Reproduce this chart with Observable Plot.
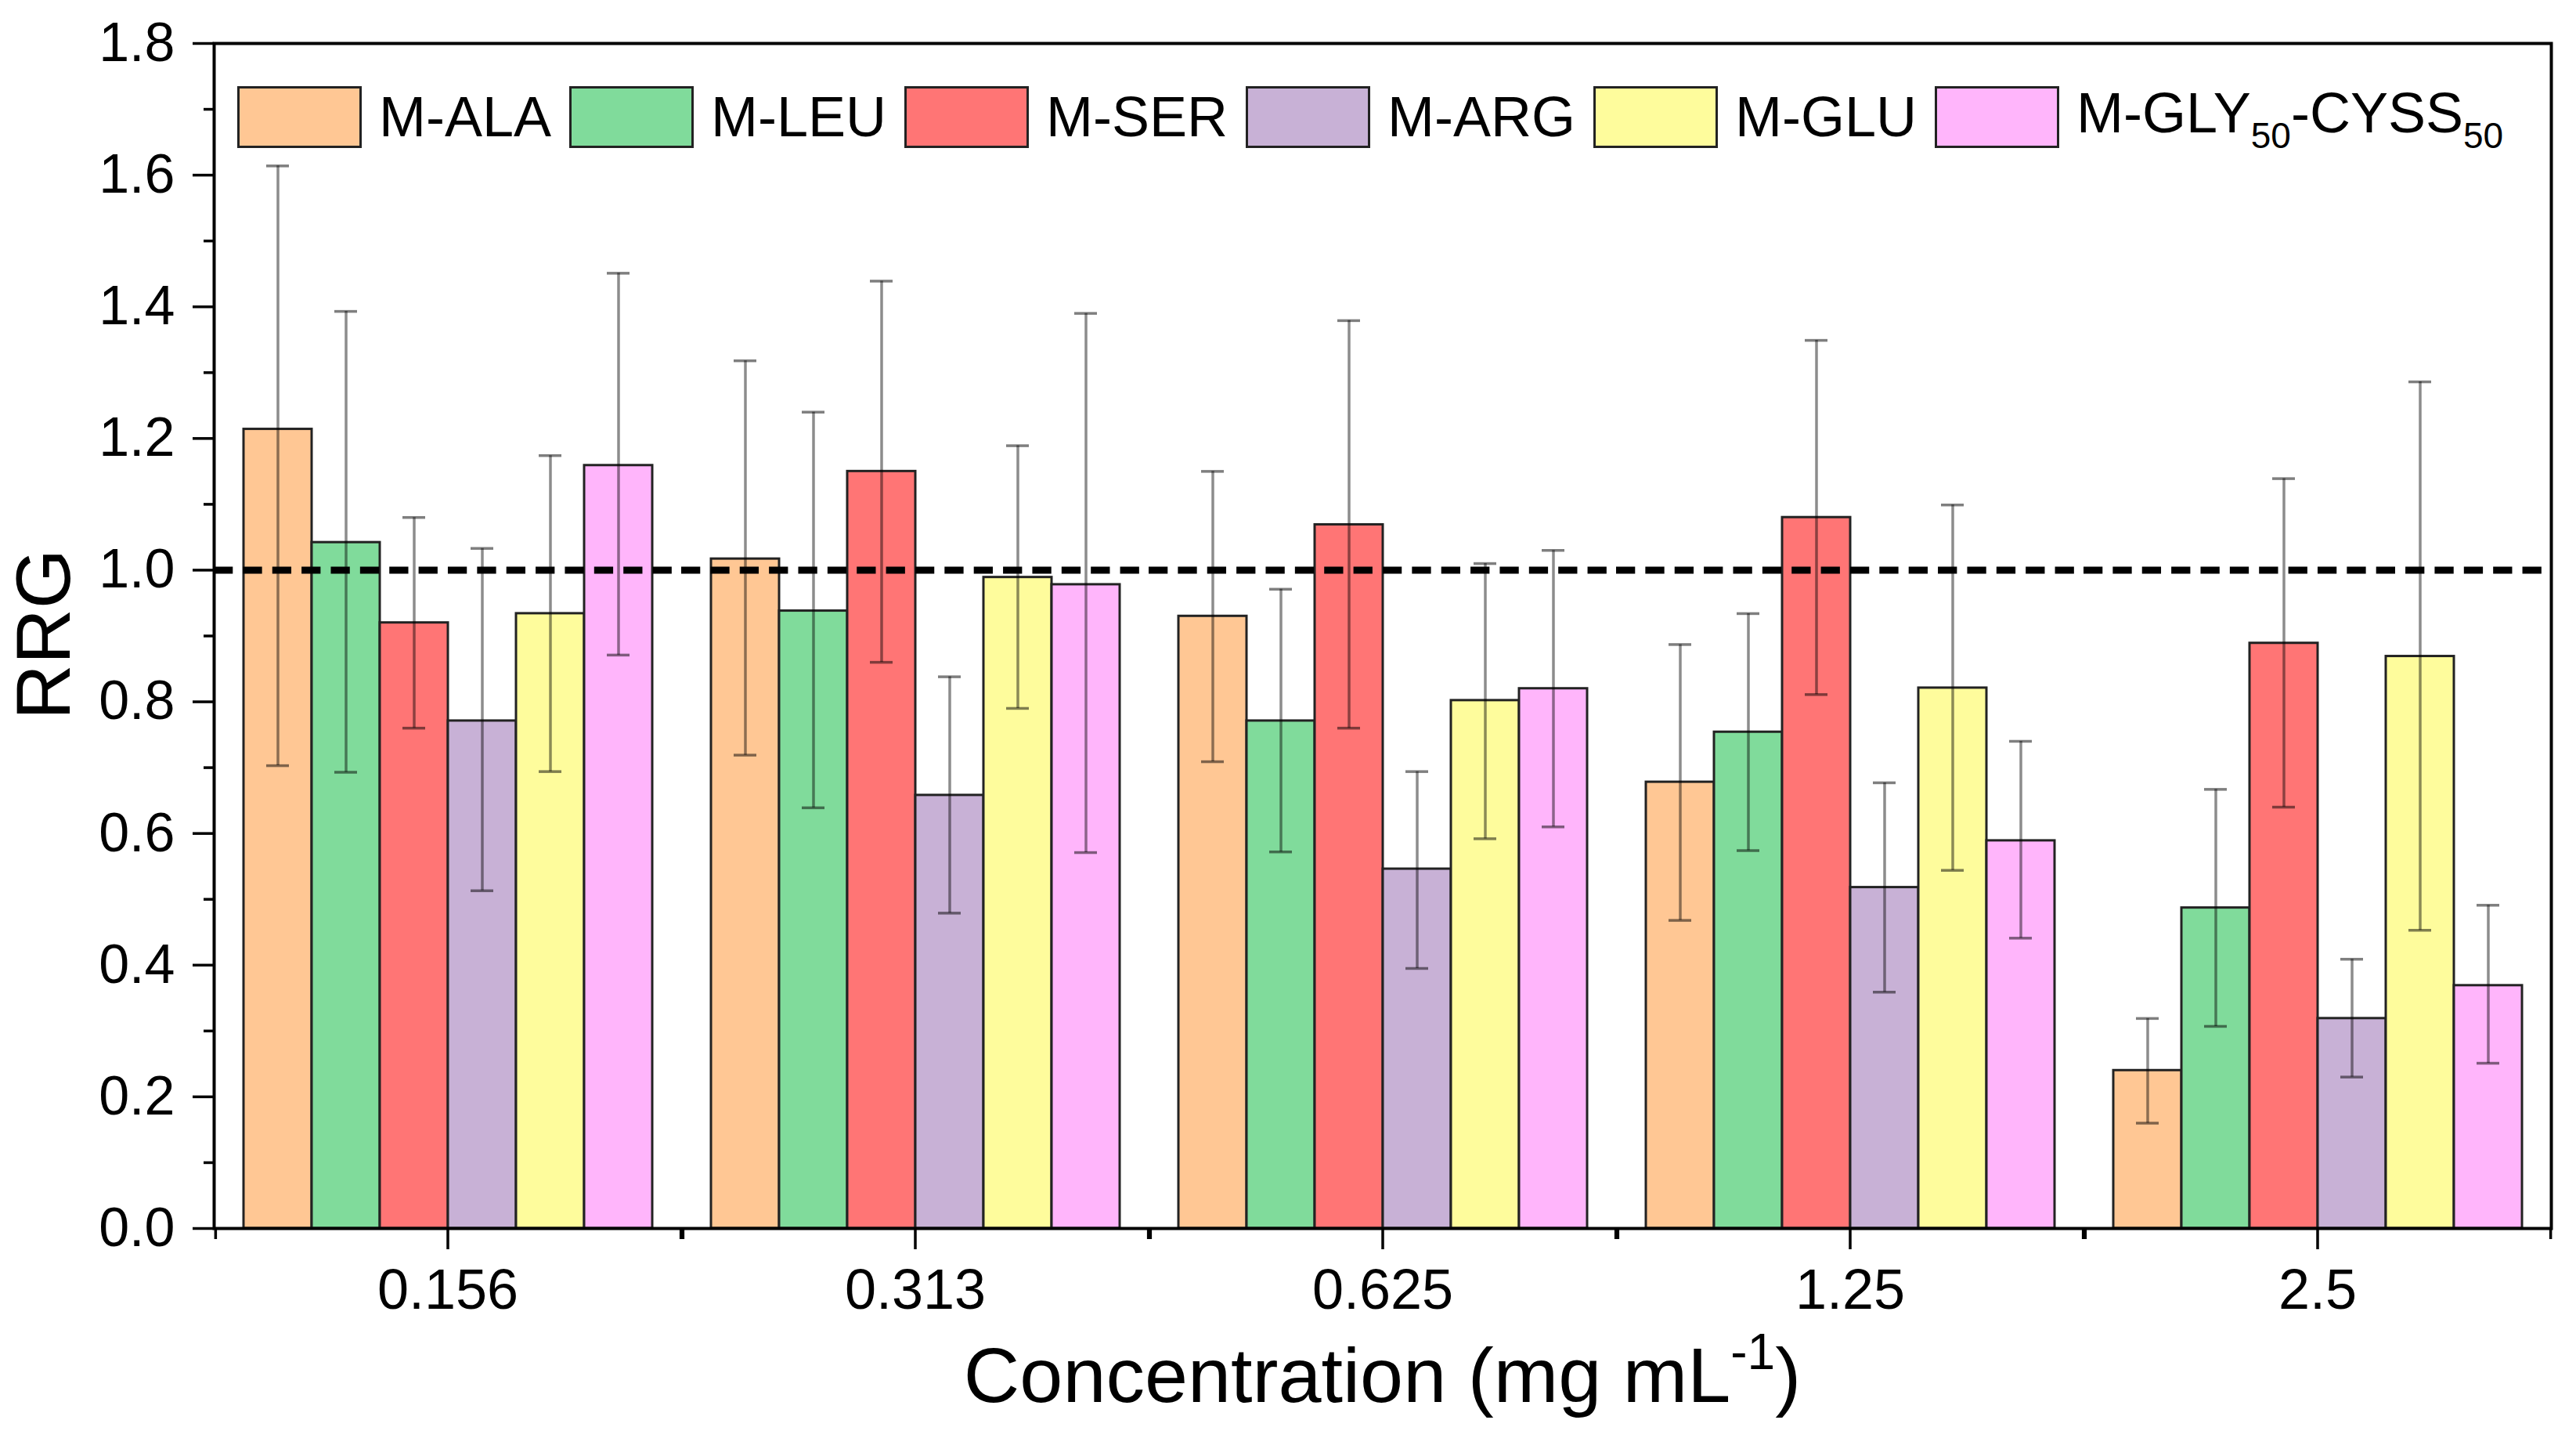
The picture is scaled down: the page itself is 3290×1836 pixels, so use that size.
<!DOCTYPE html>
<html>
<head>
<meta charset="utf-8">
<script src="https://cdn.jsdelivr.net/npm/d3@7"></script>
<script src="https://cdn.jsdelivr.net/npm/@observablehq/plot@0.6"></script>
<style>
  html, body { margin: 0; padding: 0; background: #fff; }
  #chart { position: relative; width: 3290px; height: 1836px; font-family: "Liberation Sans", Arial, sans-serif; color: #000; }
  #chart svg { position: absolute; left: 0; top: 0; }
  .legend { position: absolute; left: 303px; top: 105px; display: flex; align-items: center; gap: 23px; font-size: 72px; line-height: 79px; }
  .legend .item { display: flex; align-items: center; gap: 22px; }
  .legend .sw { box-sizing: border-box; width: 159px; height: 79px; border: 3px solid #222; }
  .legend .sub { position: relative; top: 20px; font-size: 46px; }
  .ytitle { position: absolute; left: -145px; top: 761px; width: 400px; height: 98px; line-height: 98px; font-size: 98px; text-align: center; transform: rotate(-90deg); }
  .xtitle { position: absolute; left: 271px; width: 2989px; top: 1706px; line-height: 99px; font-size: 99px; text-align: center; }
  .xtitle .sup { position: relative; top: -42px; font-size: 64px; }
</style>
</head>
<body>
<div id="chart"></div>
<script>
/*
    RRG vs concentration, grouped bars with error bars
*/
const concs = ["0.156", "0.313", "0.625", "1.25", "2.5"];
const series = ["M-ALA", "M-LEU", "M-SER", "M-ARG", "M-GLU", "M-GLY50-CYSS50"];
const colors = ["#FFC794", "#80DB9B", "#FF7575", "#C8B1D6", "#FEFC9C", "#FFB5FB"];

// mean RRG per concentration
const rrgALA = [1.214, 1.017, 0.930, 0.678, 0.240];
const rrgLEU = [1.042, 0.938, 0.771, 0.754, 0.487];
const rrgSER = [0.920, 1.150, 1.069, 1.080, 0.889];
const rrgARG = [0.771, 0.658, 0.546, 0.518, 0.319];
const rrgGLU = [0.934, 0.989, 0.802, 0.821, 0.869];
const rrgGLY = [1.159, 0.978, 0.820, 0.589, 0.369];

// error bar ends
const lowALA = [0.703, 0.719, 0.709, 0.468, 0.160];
const lowLEU = [0.693, 0.639, 0.572, 0.574, 0.307];
const lowSER = [0.760, 0.860, 0.760, 0.811, 0.640];
const lowARG = [0.513, 0.479, 0.395, 0.359, 0.230];
const lowGLU = [0.694, 0.790, 0.592, 0.544, 0.453];
const lowGLY = [0.871, 0.571, 0.610, 0.441, 0.251];

const highALA = [1.614, 1.318, 1.150, 0.887, 0.319];
const highLEU = [1.393, 1.240, 0.971, 0.934, 0.667];
const highSER = [1.080, 1.439, 1.379, 1.349, 1.139];
const highARG = [1.033, 0.838, 0.694, 0.677, 0.409];
const highGLU = [1.174, 1.189, 1.010, 1.099, 1.286];
const highGLY = [1.451, 1.390, 1.030, 0.740, 0.491];

const yTicks = [0, 0.2, 0.4, 0.6, 0.8, 1.0, 1.2, 1.4, 1.6, 1.8];
const yMinorTicks = [0.1, 0.3, 0.5, 0.7, 0.9, 1.1, 1.3, 1.5, 1.7];
const reference = [1];

const means = [rrgALA, rrgLEU, rrgSER, rrgARG, rrgGLU, rrgGLY];
const lows = [lowALA, lowLEU, lowSER, lowARG, lowGLU, lowGLY];
const highs = [highALA, highLEU, highSER, highARG, highGLU, highGLY];

const rows = series.flatMap((s, i) => concs.map((c, j) => ({
    series: s, conc: c, rrg: means[i][j], low: lows[i][j], high: highs[i][j]
})));

const W = 3290, H = 1836;
const mL = 271, mR = 30, mT = 55, mB = 268;
const barPad = 0.408;
const facetW = (W - mL - mR) / concs.length;
const step = facetW / (series.length + 2 * barPad);
const edge = step * (barPad + 0.5);   // band centre of outer bar -> facet edge
const capInset = 29;
// dash period that tiles each facet exactly, so the line looks continuous
const dashPeriod = facetW / 16;
const dashes = `${(dashPeriod * 0.65).toFixed(2)},${(dashPeriod * 0.35).toFixed(2)}`;

const plot = Plot.plot({
    width: W,
    height: H,
    marginLeft: mL,
    marginRight: mR,
    marginTop: mT,
    marginBottom: mB,
    style: { fontFamily: "'Liberation Sans', Arial, sans-serif", color: "#000", background: "transparent" },
    fx: { domain: concs, padding: 0, axis: null, label: null },
    x: { domain: series, paddingInner: 0, paddingOuter: barPad, axis: null },
    y: { domain: [0, 1.8], axis: null },
    color: { domain: series, range: colors },
    marks: [
        Plot.barY(rows, { fx: "conc", x: "series", y: "rrg", fill: "series", stroke: "#222", strokeWidth: 3 }),
        Plot.ruleX(rows, { fx: "conc", x: "series", y1: "low", y2: "high", stroke: "#000", strokeOpacity: 0.45, strokeWidth: 3.5 }),
        Plot.tickY(rows, { fx: "conc", x: "series", y: "low", insetLeft: capInset, insetRight: capInset, stroke: "#000", strokeOpacity: 0.5, strokeWidth: 3.5 }),
        Plot.tickY(rows, { fx: "conc", x: "series", y: "high", insetLeft: capInset, insetRight: capInset, stroke: "#000", strokeOpacity: 0.5, strokeWidth: 3.5 }),
        Plot.ruleY(reference, { stroke: "#000", strokeWidth: 9, strokeDasharray: dashes }),
        Plot.frame({ facet: "super", stroke: "#000", strokeWidth: 4 }),
        // minor ticks at the group boundaries
        Plot.ruleX(concs, { fx: d => d, x: () => series[0], y1: 0, y2: 0, dx: -edge, insetBottom: -14, stroke: "#000", strokeWidth: 3.5 }),
        Plot.ruleX(concs, { fx: d => d, x: () => series[series.length - 1], y1: 0, y2: 0, dx: edge, insetBottom: -14, stroke: "#000", strokeWidth: 3.5 }),
        Plot.axisY(yTicks, { tickSize: 27, tickPadding: 23, tickFormat: d => d.toFixed(1), fontSize: 70, strokeWidth: 3.5, label: null }),
        Plot.axisY(yMinorTicks, { tickSize: 13, tickFormat: () => "", strokeWidth: 3.5, label: null }),
        Plot.axisFx({ anchor: "bottom", tickSize: 27, tickPadding: 24, fontSize: 72, strokeWidth: 3.5, label: null })
    ]
});

const chart = document.getElementById("chart");
chart.appendChild(plot);

// legend inside the frame
const legend = document.createElement("div");
legend.className = "legend";
series.forEach((s, i) => {
    const item = document.createElement("div");
    item.className = "item";
    const sw = document.createElement("div");
    sw.className = "sw";
    sw.style.background = colors[i];
    const label = document.createElement("span");
    label.innerHTML = s.replace(/50/g, '<span class="sub">50</span>');
    item.appendChild(sw);
    item.appendChild(label);
    legend.appendChild(item);
});
chart.appendChild(legend);

const ytitle = document.createElement("div");
ytitle.className = "ytitle";
ytitle.textContent = "RRG";
chart.appendChild(ytitle);

const xtitle = document.createElement("div");
xtitle.className = "xtitle";
xtitle.innerHTML = 'Concentration (mg mL<span class="sup">-1</span>)';
chart.appendChild(xtitle);
</script>
</body>
</html>
